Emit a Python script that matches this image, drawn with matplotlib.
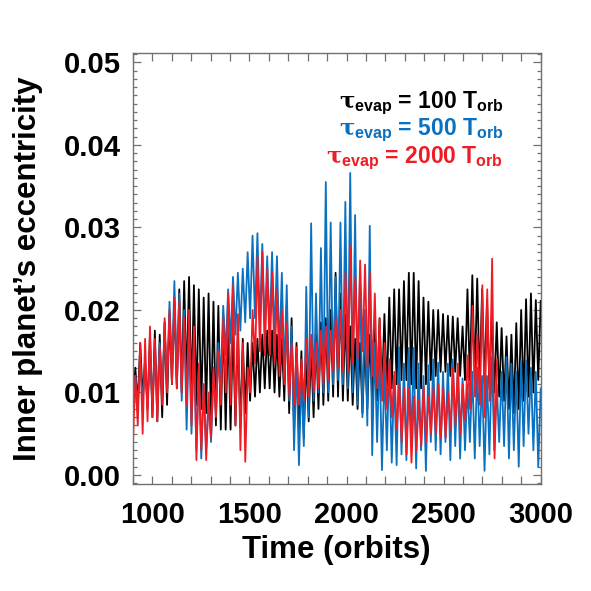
import numpy as np
import matplotlib
matplotlib.use("Agg")
import matplotlib.pyplot as plt
from matplotlib.ticker import MultipleLocator, FormatStrFormatter

plt.rcParams['font.family'] = ['Liberation Sans', 'DejaVu Sans']
plt.rcParams['font.weight'] = 'bold'
plt.rcParams['mathtext.fontset'] = 'custom'
plt.rcParams['mathtext.bf'] = 'Liberation Sans:bold'
plt.rcParams['mathtext.rm'] = 'Liberation Sans:bold'
plt.rcParams['mathtext.it'] = 'DejaVu Serif'

# ---------------- data (peaks / troughs read per 100-orbit block) ----------------
black_peaks = [0.013, 0.016, 0.014, 0.017,
               0.0175, 0.017, 0.0185, 0.0195,
               0.021, 0.0225, 0.0235, 0.024,
               0.023, 0.0225, 0.0215, 0.022,
               0.021, 0.0205, 0.0195, 0.0185,
               0.018, 0.0175, 0.0165, 0.016,
               0.016, 0.0165, 0.017, 0.0175,
               0.0175, 0.017, 0.0165, 0.0205,
               0.019, 0.016, 0.015, 0.0145,
               0.0155, 0.017, 0.0185, 0.019,
               0.020, 0.0245, 0.022, 0.0195,
               0.018, 0.0165, 0.016, 0.016,
               0.017, 0.0185, 0.019, 0.0195,
               0.0215, 0.0225, 0.0225, 0.0235,
               0.0245, 0.0245, 0.0235, 0.0215,
               0.021, 0.020, 0.020, 0.0195,
               0.0193, 0.0192, 0.019, 0.018,
               0.0225, 0.0242, 0.0238, 0.0225,
               0.0212, 0.020, 0.0185, 0.0178,
               0.0168, 0.017, 0.0184, 0.020,
               0.0213, 0.022, 0.0212, 0.0211]
black_troughs = [0.008, 0.0085, 0.0095, 0.008,
                 0.007, 0.0065, 0.007, 0.0085,
                 0.011, 0.0105, 0.010, 0.011,
                 0.0095, 0.0085, 0.008, 0.0075,
                 0.0065, 0.006, 0.0055, 0.0055,
                 0.0055, 0.006, 0.0058, 0.0075,
                 0.009, 0.0095, 0.010, 0.0105,
                 0.0105, 0.010, 0.0095, 0.009,
                 0.0075, 0.0055, 0.005, 0.0045,
                 0.0065, 0.007, 0.008, 0.0085,
                 0.009, 0.0095, 0.0095, 0.009,
                 0.009, 0.0085, 0.008, 0.0075,
                 0.008, 0.0085, 0.009, 0.010,
                 0.010, 0.0105, 0.011, 0.0115,
                 0.0115, 0.011, 0.0105, 0.0105,
                 0.011, 0.0115, 0.012, 0.0125,
                 0.0125, 0.012, 0.0125, 0.012,
                 0.0115, 0.0115, 0.0115, 0.011,
                 0.011, 0.0105, 0.010, 0.0095,
                 0.009, 0.008, 0.0075, 0.008,
                 0.009, 0.0095, 0.010, 0.0115]

blue_peaks = [0.012, 0.0135, 0.013, 0.0145,
              0.0145, 0.016, 0.0175, 0.021,
              0.0235, 0.022, 0.020, 0.0175,
              0.016, 0.013, 0.011, 0.009,
              0.012, 0.016, 0.0205, 0.0225,
              0.024, 0.0245, 0.025, 0.027,
              0.029, 0.0293, 0.028, 0.0265,
              0.027, 0.0265, 0.0245, 0.023,
              0.018, 0.014, 0.012, 0.0228,
              0.0305, 0.022, 0.0275, 0.0355,
              0.0306, 0.024, 0.0306, 0.0331,
              0.0366, 0.0315, 0.024, 0.020,
              0.0302, 0.016, 0.015, 0.013,
              0.014, 0.012, 0.0155, 0.0135,
              0.0154, 0.0154, 0.0135, 0.012,
              0.0133, 0.014, 0.0136, 0.0125,
              0.0135, 0.014, 0.0125, 0.0117,
              0.011, 0.0125, 0.013, 0.012,
              0.012, 0.0143, 0.011, 0.0125,
              0.0143, 0.0135, 0.0125, 0.0138,
              0.0139, 0.013, 0.0125, 0.0105]
blue_troughs = [0.007, 0.0085, 0.009, 0.0085,
                0.009, 0.0095, 0.010, 0.011,
                0.0125, 0.011, 0.009, 0.0055,
                0.005, 0.003, 0.002, 0.003,
                0.004, 0.008, 0.012, 0.0145,
                0.016, 0.017, 0.0175, 0.0185,
                0.019, 0.019, 0.018, 0.0175,
                0.017, 0.0165, 0.0145, 0.012,
                0.009, 0.003, 0.0012, 0.0035,
                0.007, 0.009, 0.010, 0.010,
                0.010, 0.011, 0.0115, 0.011,
                0.0105, 0.010, 0.0085, 0.007,
                0.006, 0.0024, 0.004, 0.0006,
                0.003, 0.0015, 0.0012, 0.0025,
                0.0018, 0.0035, 0.0008, 0.003,
                0.0005, 0.004, 0.003, 0.0025,
                0.004, 0.0018, 0.0035, 0.002,
                0.003, 0.004, 0.002, 0.0035,
                0.0005, 0.0025, 0.003, 0.004,
                0.0035, 0.002, 0.003, 0.001,
                0.0035, 0.005, 0.003, 0.001]

red_peaks = [0.012, 0.016, 0.0165, 0.018,
             0.0165, 0.0155, 0.019, 0.020,
             0.0215, 0.021, 0.019, 0.020,
             0.018, 0.0135, 0.011, 0.010,
             0.013, 0.015, 0.019, 0.022,
             0.023, 0.0195, 0.016, 0.013,
             0.020, 0.0265, 0.027, 0.025,
             0.0245, 0.0225, 0.020, 0.0185,
             0.016, 0.0155, 0.014, 0.0165,
             0.017, 0.016, 0.0175, 0.018,
             0.0175, 0.019, 0.020, 0.0245,
             0.0277, 0.024, 0.026, 0.0255,
             0.0245, 0.022, 0.019, 0.016,
             0.014, 0.0125, 0.011, 0.0105,
             0.0105, 0.0095, 0.009, 0.0107,
             0.0095, 0.0105, 0.011, 0.0105,
             0.010, 0.013, 0.0135, 0.011,
             0.0145, 0.0205, 0.017, 0.023,
             0.0225, 0.0262, 0.014]
red_troughs = [0.0035, 0.006, 0.005, 0.0065,
               0.007, 0.0065, 0.0085, 0.010,
               0.011, 0.0105, 0.010, 0.0085,
               0.006, 0.0018, 0.003, 0.0018,
               0.0045, 0.007, 0.0085, 0.010,
               0.0085, 0.006, 0.003, 0.0016,
               0.010, 0.0135, 0.015, 0.0145,
               0.0145, 0.0135, 0.012, 0.011,
               0.0095, 0.0085, 0.0085, 0.009,
               0.0095, 0.010, 0.0105, 0.011,
               0.0115, 0.0125, 0.013, 0.0125,
               0.0125, 0.0135, 0.014, 0.015,
               0.013, 0.012, 0.0105, 0.009,
               0.008, 0.007, 0.0055, 0.004,
               0.0025, 0.0015, 0.003, 0.0035,
               0.004, 0.005, 0.005, 0.0045,
               0.0045, 0.0055, 0.006, 0.005,
               0.0065, 0.008, 0.0095, 0.0085,
               0.007, 0.009, 0.002]

t_start = 900
t_end_full = 3000
t_end_red = 2775

legend_labels = ["100", "500", "2000"]
colors = ["black", "#0a70c0", "#ee1c25"]

x_ticks = [1000, 1500, 2000, 2500, 3000]
y_ticks = [0.00, 0.01, 0.02, 0.03, 0.04, 0.05]


def series(troughs, peaks, t0, t1):
    vals = np.column_stack((troughs, peaks)).ravel()
    t = np.linspace(t0, t1, len(vals))
    return t, vals


fig = plt.figure(figsize=(5.91, 5.91), dpi=100)
ax = fig.add_axes([0.2245, 0.1805, 0.6904, 0.7293])

tb, vb = series(black_troughs, black_peaks, t_start, t_end_full)
tu, vu = series(blue_troughs, blue_peaks, t_start, t_end_full)
tr, vr = series(red_troughs, red_peaks, t_start, t_end_red)

ax.plot(tb, vb, color=colors[0], lw=1.3)
ax.plot(tu, vu, color=colors[1], lw=1.3)
ax.plot(tr, vr, color=colors[2], lw=1.3)

ax.set_xlim(899, 3000)
ax.set_ylim(-0.00113, 0.0511)

ax.set_xticks(x_ticks)
ax.xaxis.set_minor_locator(MultipleLocator(100))
ax.set_yticks(y_ticks)
ax.yaxis.set_minor_locator(MultipleLocator(0.001))
ax.yaxis.set_major_formatter(FormatStrFormatter('%.2f'))

spine_c = '#707070'
for s in ax.spines.values():
    s.set_color(spine_c)
    s.set_linewidth(1.0)

ax.tick_params(axis='both', which='both', direction='in', top=True, right=True,
               color=spine_c, width=0.9)
ax.tick_params(axis='y', which='major', length=6, pad=8.5, labelsize=21)
ax.tick_params(axis='y', which='minor', length=3)
ax.tick_params(axis='x', which='major', length=5.5, pad=12, labelsize=21)
ax.tick_params(axis='x', which='minor', length=5.5)
for lab in ax.get_xticklabels() + ax.get_yticklabels():
    lab.set_fontweight('bold')

ax.set_xlabel("Time (orbits)", fontsize=22.5, fontweight='bold')
ax.set_ylabel("Inner planet\u2019s eccentricity", fontsize=22.5, fontweight='bold')
ax.xaxis.set_label_coords(0.5, -0.117)
ax.yaxis.set_label_coords(-0.22, 0.5)

ys = [0.8168, 0.7716, 0.7237]
for lab, c, y in zip(legend_labels, colors, ys):
    fig.text(0.851, y, r"$\tau_{\mathbf{evap}}$ = " + lab + r" T$_{\mathbf{orb}}$",
             color=c, fontsize=16.5, fontweight='bold', ha='right', va='baseline')

fig.savefig("out.png", dpi=100)
